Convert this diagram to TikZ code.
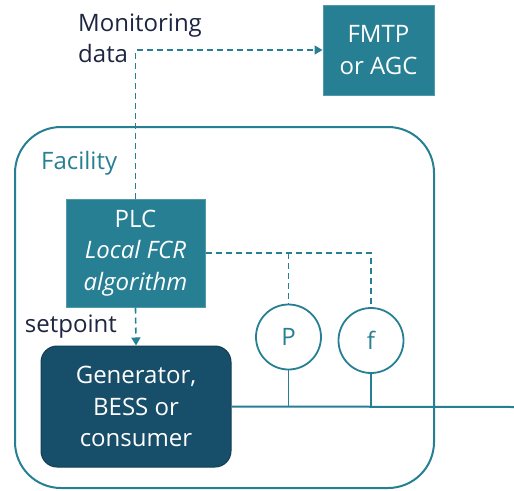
\documentclass[tikz,border=0pt]{standalone}
\usepackage{fontspec}
\setmainfont{Open Sans}
\usetikzlibrary{positioning}
\usetikzlibrary{arrows.meta}
\definecolor{tealbox}{HTML}{277F94}
\definecolor{darkbox}{HTML}{174E6A}
\definecolor{navytext}{HTML}{1C2541}
\tikzset{%
	>={Triangle[width=9pt,length=8pt]},
	% Specifications for style of nodes:
	base/.style = {rectangle, text=white, align=center, inner sep=0pt, font=\fontsize{24}{31.5}\selectfont},
	unit/.style = {base, fill=tealbox, draw=tealbox!80!white, line width=1pt},
	device/.style = {base, fill=darkbox, draw=darkbox!80!black, rounded corners=16pt, line width=1pt},
	meter/.style = {circle, draw=tealbox, line width=1.8pt, minimum size=65pt, inner sep=0pt, text=tealbox, font=\fontsize{24}{28}\selectfont},
	label/.style = {text=navytext, align=left, inner sep=0pt, font=\fontsize{24}{31}\selectfont},
	signal/.style = {draw=tealbox, line width=1.6pt, dash pattern=on 6pt off 4pt},
	power/.style = {draw=tealbox, line width=2pt},
}
\begin{document}
\begin{tikzpicture}[x=1pt,y=-1pt]
		\useasboundingbox (0,0) rectangle (514,490);
		\node (Facility) [draw=tealbox, line width=2pt, rounded corners=46pt, minimum width=419pt, minimum height=361pt] at (224.5,307.5) {};
		\node (FacilityName) [label, text=tealbox, anchor=west] at (41,163) {Facility};
		
		\node (FMTP) [unit, minimum width=111pt, minimum height=90pt] at (378.5,50) {FMTP\\or AGC};
		\node (PLC) [unit, minimum width=139pt, minimum height=108pt] at (135.5,253) {PLC\\\textit{Local FCR}\\\textit{algorithm}};
		\node (Gen) [device, minimum width=190pt, minimum height=121pt] at (136,406.5) {Generator,\\BESS or\\consumer};
		
		\node (P) [meter] at (288.5,337) {P};
		\node (f) [meter] at (371,340.5) {f};
		
		\node (Monitoring) [label, anchor=north west] at (78,14) {Monitoring\\data};
		\node (Setpoint) [label, anchor=east] at (117,327) {setpoint};
		\coordinate (Grid) at (514,407);
		
		\draw [signal,->] (PLC.north) |- (FMTP.west);
		\draw [signal,->] (PLC.south) -- (Gen.north);
		\draw [signal] (PLC.east) -| (f.north);
		\draw [signal] (P.north |- PLC.east) -- (P.north);
		
		\draw [power] (Gen.east) -- (Grid);
		\draw [power, line width=1.4pt] (P.south) -- (P.south |- Gen.east);
		\draw [power, line width=1.4pt] (f.south) -- (f.south |- Gen.east);
		
     \end{tikzpicture}
\end{document}
